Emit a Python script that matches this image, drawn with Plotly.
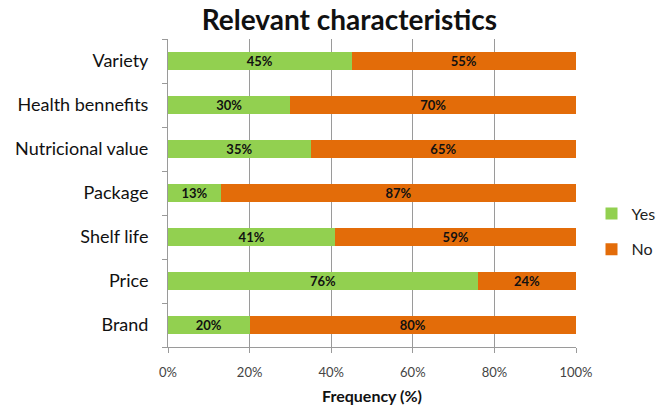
import plotly.graph_objects as go

categories = ["Variety", "Health bennefits", "Nutricional value", "Package",
              "Shelf life", "Price", "Brand"]
yes_pct = [45, 30, 35, 13, 41, 76, 20]
no_pct = [55, 70, 65, 87, 59, 24, 80]
x_ticks = [0, 20, 40, 60, 80, 100]
x_tick_labels = ["0%", "20%", "40%", "60%", "80%", "100%"]

GREEN = "#92D050"
ORANGE = "#E36C09"
FONT = "Lato, Open Sans, sans-serif"

fig = go.Figure()
for name, vals, color in (("Yes", yes_pct, GREEN), ("No", no_pct, ORANGE)):
    fig.add_trace(go.Bar(
        y=categories, x=vals, name=name, orientation="h",
        legendgroup=name,
        marker=dict(color=color, line=dict(width=0)),
        text=[f"{v}%" for v in vals], textposition="inside",
        insidetextanchor="middle", constraintext="none",
        textfont=dict(family=FONT, size=13, color="#111111", weight="bold"),
    ))

fig.update_layout(
    barmode="stack",
    bargap=0.59,
    width=672, height=408,
    margin=dict(l=168, r=96, t=39, b=61, autoexpand=False),
    plot_bgcolor="white", paper_bgcolor="white",
    title=dict(text="<b>Relevant characteristics</b>", x=0.52, xanchor="center",
               y=0.95, yanchor="middle",
               font=dict(family=FONT, size=28, color="#111111")),
    legend=dict(x=1.038, y=0.375, xanchor="left", yanchor="middle",
                traceorder="grouped", tracegroupgap=12,
                font=dict(family=FONT, size=16, color="#222222"),
                itemwidth=30, itemsizing="constant"),
    xaxis=dict(range=[0, 100], tickvals=x_ticks, ticktext=x_tick_labels,
               automargin=False,
               showgrid=True, gridcolor="#9a9a9a", gridwidth=1,
               showline=True, linecolor="#9a9a9a", linewidth=1,
               ticks="outside", ticklen=5, tickcolor="#9a9a9a",
               ticklabelstandoff=8,
               tickfont=dict(family=FONT, size=13, color="#444444"),
               zeroline=False,
               title=dict(text="<b>Frequency (%)</b>", standoff=12,
                          font=dict(family=FONT, size=16, color="#111111"))),
    yaxis=dict(categoryorder="array", categoryarray=categories[::-1],
               automargin=False,
               showline=True, linecolor="#9a9a9a", linewidth=1,
               ticks="outside", tickson="boundaries", ticklen=5,
               tickcolor="#9a9a9a", showgrid=False,
               tickfont=dict(family=FONT, size=18, color="#111111"),
               ticklabelstandoff=15),
)

fig.write_html("out.html")
